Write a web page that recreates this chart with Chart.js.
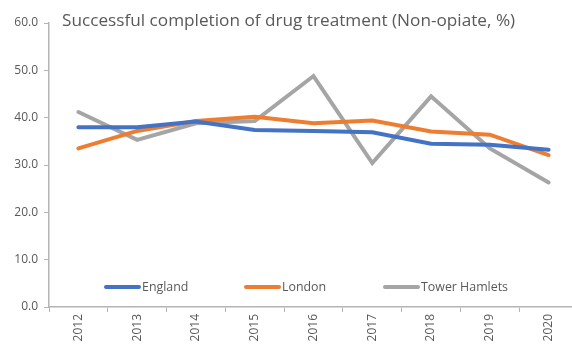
<!DOCTYPE html>
<html>
<head>
<meta charset="utf-8">
<script src="https://cdn.jsdelivr.net/npm/chart.js@4/dist/chart.umd.min.js"></script>
<style>
  html, body { margin: 0; padding: 0; background: #fff; overflow: hidden; }
  #clip { width: 572px; height: 345px; overflow: hidden; }
  /* the original plot runs a few pixels past the right edge of the picture */
  #wrap { width: 578px; height: 345px; position: relative; }
</style>
</head>
<body>
<div id="clip"><div id="wrap"><canvas id="chart"></canvas></div></div>
<script>
// data
const years = ['2012','2013','2014','2015','2016','2017','2018','2019','2020']
const england = [38.0, 38.0, 39.2, 37.4, 37.2, 36.9, 34.5, 34.3, 33.2]
const london = [33.5, 37.2, 39.3, 40.2, 38.8, 39.4, 37.1, 36.4, 32.1]
const towerHamlets = [41.2, 35.3, 38.8, 39.3, 48.8, 30.4, 44.5, 33.5, 26.3]
const seriesNames = ['England', 'London', 'Tower Hamlets']
const titleText = 'Successful completion of drug treatment (Non-opiate, %)'

const textGrey = '#595959'
const axisGrey = '#b4b4b4'
const fontFamily = "'Open Sans', sans-serif"

// title drawn on top of the plot, like the Excel original
const titlePlugin = {
    id: 'titleOverlay',
    afterDraw(chart) {
        const ctx = chart.ctx
        ctx.save()
        ctx.font = '17.2px ' + fontFamily
        ctx.fillStyle = textGrey
        ctx.textBaseline = 'middle'
        ctx.fillText(titleText, 62, 21)
        ctx.restore()
    }
}

// legend sits inside the plot area near the bottom
const legendPlugin = {
    id: 'insideLegend',
    afterDraw(chart) {
        const ctx = chart.ctx
        const starts = [106, 246, 385]
        const y = chart.chartArea.bottom - 20
        ctx.save()
        ctx.font = '12.4px ' + fontFamily
        ctx.textBaseline = 'middle'
        chart.data.datasets.forEach((ds, i) => {
            ctx.strokeStyle = ds.borderColor
            ctx.lineWidth = 4
            ctx.lineCap = 'round'
            ctx.beginPath()
            ctx.moveTo(starts[i], y)
            ctx.lineTo(starts[i] + 33, y)
            ctx.stroke()
            ctx.fillStyle = textGrey
            ctx.fillText(ds.label, starts[i] + 36, y)
        })
        ctx.restore()
    }
}

function makeSeries(label, values, colour) {
    return {
        label: label,
        data: values,
        borderColor: colour,
        backgroundColor: colour,
        borderWidth: 4,
        pointRadius: 0,
        tension: 0,
        borderCapStyle: 'round'
    }
}

const ctx = document.getElementById('chart').getContext('2d')
const chart = new Chart(ctx, {
    type: 'line',
    data: {
        labels: years,
        datasets: [
            makeSeries(seriesNames[0], england, '#4472C4'),
            makeSeries(seriesNames[1], london, '#ED7D31'),
            makeSeries(seriesNames[2], towerHamlets, '#A5A5A5')
        ]
    },
    options: {
        responsive: true,
        maintainAspectRatio: false,
        animation: false,
        layout: { padding: { top: 23, right: 0, left: 0, bottom: 0 } },
        plugins: {
            legend: { display: false },
            title: { display: false },
            tooltip: { enabled: false }
        },
        scales: {
            x: {
                offset: true,
                grid: {
                    offset: true,
                    drawOnChartArea: false,
                    drawTicks: true,
                    tickLength: 5,
                    color: axisGrey
                },
                border: { color: axisGrey, width: 1.5 },
                ticks: {
                    color: textGrey,
                    font: { family: fontFamily, size: 12 },
                    minRotation: 90,
                    maxRotation: 90,
                    padding: 2
                },
                afterFit(scale) {
                    scale.height = 38
                    scale.paddingLeft = 0
                    scale.paddingRight = 0
                }
            },
            y: {
                min: 0,
                max: 60,
                grid: {
                    drawOnChartArea: false,
                    drawTicks: true,
                    tickLength: 5,
                    color: axisGrey
                },
                border: { color: axisGrey, width: 1.5 },
                ticks: {
                    stepSize: 10,
                    color: textGrey,
                    font: { family: fontFamily, size: 12 },
                    padding: 6,
                    callback: v => v.toFixed(1)
                },
                afterFit(scale) { scale.width = 49 }
            }
        }
    },
    plugins: [titlePlugin, legendPlugin]
})
</script>
</body>
</html>
